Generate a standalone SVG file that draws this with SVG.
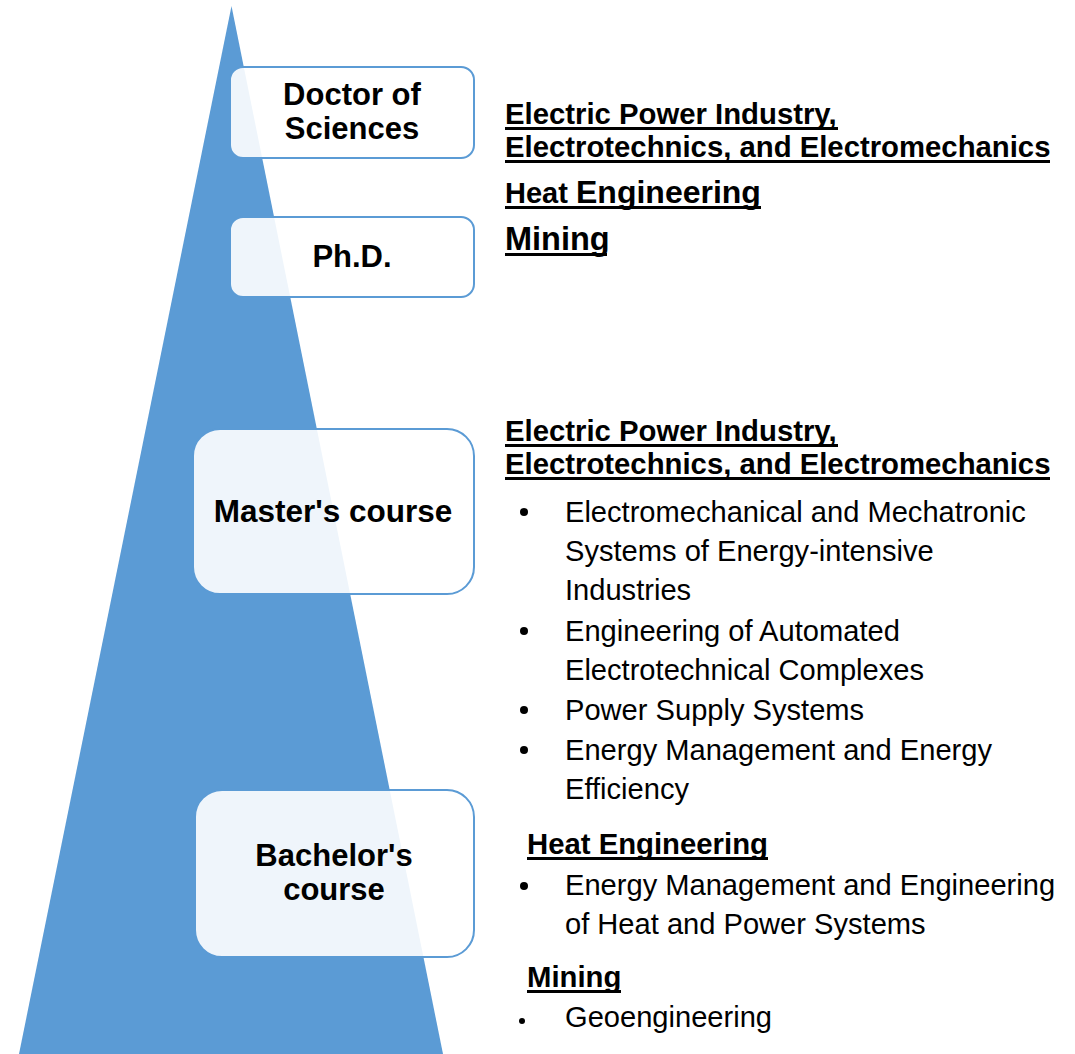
<svg xmlns="http://www.w3.org/2000/svg" width="1075" height="1054" viewBox="0 0 1075 1054">
<style>
.box{fill:#ffffff;fill-opacity:0.9;stroke:#5b9bd5;stroke-width:2}
.lbl{font-family:"Liberation Sans",Arial,sans-serif;font-weight:bold;font-size:31px;fill:#000;text-anchor:middle}
.hd{font-family:"Liberation Sans",Arial,sans-serif;font-weight:bold;font-size:29.3px;fill:#000}
.tx{font-family:"Liberation Sans",Arial,sans-serif;font-size:29.1px;fill:#000}
.ul{fill:#000}
</style>
<rect width="1075" height="1054" fill="#ffffff"/>
<polygon points="231.5,6 443,1054 19,1054" fill="#5b9bd5"/>
<g id="doctor">
<rect class="box" x="230" y="67" width="244" height="91" rx="13"/>
<text class="lbl" x="352" y="105">Doctor of</text>
<text class="lbl" x="352" y="138.5">Sciences</text>
</g>
<g id="phd">
<rect class="box" x="230" y="217" width="244" height="80" rx="13"/>
<text class="lbl" x="352" y="267">Ph.D.</text>
</g>
<g id="master">
<rect class="box" x="193" y="429" width="281" height="165" rx="27"/>
<text class="lbl" x="333" y="522" style="font-size:31.5px">Master's course</text>
</g>
<g id="bachelor">
<rect class="box" x="195" y="790" width="279" height="167" rx="27"/>
<text class="lbl" x="334" y="866">Bachelor's</text>
<text class="lbl" x="334" y="899.5">course</text>
</g>
<g id="connectors"></g>
<g id="postgrad-fields">
<text class="hd" x="505" y="124">Electric Power Industry,</text>
<rect class="ul" x="505" y="127" width="333" height="3"/>
<text class="hd" x="505" y="157">Electrotechnics, and Electromechanics</text>
<rect class="ul" x="505" y="160" width="545" height="3"/>
<text class="hd" x="505" y="203"><tspan font-size="29">Heat</tspan> <tspan font-size="32">Engineering</tspan></text>
<rect class="ul" x="505" y="206" width="256" height="3"/>
<text class="hd" x="505" y="250" style="font-size:32.5px">Mining</text>
<rect class="ul" x="505" y="253" width="102" height="3"/>
</g>
<g id="undergrad-fields">
<text class="hd" x="505" y="441">Electric Power Industry,</text>
<rect class="ul" x="505" y="444" width="333" height="3"/>
<text class="hd" x="505" y="474">Electrotechnics, and Electromechanics</text>
<rect class="ul" x="505" y="477" width="545" height="3"/>
<circle cx="524" cy="512" r="4"/>
<text class="tx" x="565" y="522">Electromechanical and Mechatronic</text>
<text class="tx" x="565" y="561">Systems of Energy-intensive</text>
<text class="tx" x="565" y="600">Industries</text>
<circle cx="524" cy="631" r="4"/>
<text class="tx" x="565" y="641">Engineering of Automated</text>
<text class="tx" x="565" y="680">Electrotechnical Complexes</text>
<circle cx="524" cy="710" r="4"/>
<text class="tx" x="565" y="720">Power Supply Systems</text>
<circle cx="524" cy="750" r="4"/>
<text class="tx" x="565" y="760">Energy Management and Energy</text>
<text class="tx" x="565" y="799">Efficiency</text>
<text class="hd" x="527" y="854">Heat Engineering</text>
<rect class="ul" x="527" y="857" width="241" height="3"/>
<circle cx="524" cy="886" r="4"/>
<text class="tx" x="565" y="895">Energy Management and Engineering</text>
<text class="tx" x="565" y="934">of Heat and Power Systems</text>
<text class="hd" x="527" y="987">Mining</text>
<rect class="ul" x="527" y="990" width="94" height="3"/>
<circle cx="522" cy="1021" r="3"/>
<text class="tx" x="565" y="1027">Geoengineering</text>
</g>
</svg>
